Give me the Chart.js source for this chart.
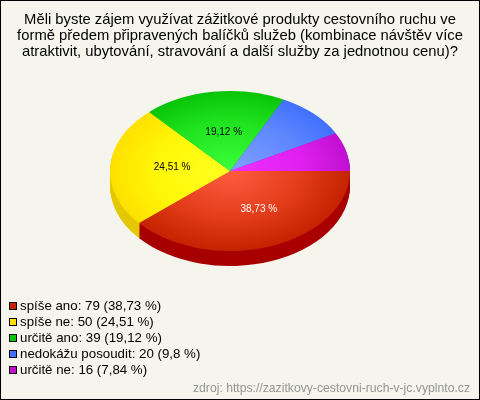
<!DOCTYPE html>
<html>
<head>
<meta charset="utf-8">
<title>Balíčky služeb</title>
<style>
  html, body { margin: 0; padding: 0; }
  #box { position: relative; width: 478px; height: 398px; border: 1px solid #000; background: #f5f5ed; overflow: hidden; font-family: "Liberation Sans", Arial, sans-serif; }
  #chart { position: absolute; left: -1px; top: -1px; }
  #title { position: absolute; left: -1px; top: 11px; width: 480px; text-align: center; font-size: 14.8px; line-height: 15.8px; color: #000; white-space: nowrap; }
  #legend { position: absolute; left: 8px; top: 297px; font-size: 13.3px; line-height: 16px; color: #000; white-space: nowrap; }
  #legend i { display: inline-block; width: 6px; height: 6px; border: 1px solid #000; margin-right: 3px; }
  #source { position: absolute; right: 9px; bottom: 4px; font-size: 12.2px; color: #949494; white-space: nowrap; }
</style>
</head>
<body>
<div id="box">
  <canvas id="chart" width="480" height="400"></canvas>
  <div id="title"></div>
  <div id="legend"></div>
  <div id="source">zdroj: https://zazitkovy-cestovni-ruch-v-jc.vyplnto.cz</div>
</div>
<script src="https://cdn.jsdelivr.net/npm/chart.js@4"></script>
<script>
var titleLines = [
  'Měli byste zájem využívat zážitkové produkty cestovního ruchu ve',
  'formě předem připravených balíčků služeb (kombinace návštěv více',
  'atraktivit, ubytování, stravování a další služby za jednotnou cenu)?'
];
var categories = ['spíše ano', 'spíše ne', 'určitě ano', 'nedokážu posoudit', 'určitě ne'];
var counts = [79, 50, 39, 20, 16];
var percents = [38.73, 24.51, 19.12, 9.8, 7.84];

// colours: centre, middle and rim of slice, side wall
var innerColors = ['#ff5c40', '#ffff20', '#3cff3c', '#80a0ff', '#f030ff'];
var midColors = ['#e23c1a', '#fff808', '#20e420', '#6088ff', '#e020f0'];
var outerColors = ['#c42200', '#ffe000', '#08c408', '#4070ff', '#c010d0'];
var sideColors = ['#a80000', '#e3c800', '#08a008', '#3058c0', '#a010b0'];
var labelColors = ['#fff', '#000', '#000'];
var labelNudge = [[8, 0.5], [2, -1], [2, 1]];

var squash = 80 / 120;
var depth = 15;

function pct(v) { return String(v).replace('.', ',') + ' %'; }

document.getElementById('title').innerHTML = titleLines.join('<br>');
document.getElementById('legend').innerHTML = categories.map(function (c, i) {
  return '<div><i style="background:' + outerColors[i] + '"></i>' + c + ': ' + counts[i] + ' (' + pct(percents[i]) + ')</div>';
}).join('');

function squashCtx(chart) {
  var a = chart.chartArea, cy = (a.top + a.bottom) / 2;
  chart.ctx.translate(0, cy);
  chart.ctx.scale(1, squash);
  chart.ctx.translate(0, -cy);
}

var pie3d = {
  id: 'pie3d',
  beforeDatasetsDraw: function (chart) {
    var ctx = chart.ctx, arcs = chart.getDatasetMeta(0).data;
    ctx.save();
    squashCtx(chart);
    // side wall, same arcs pushed down
    for (var d = depth; d > 0; d--) {
      ctx.save();
      ctx.translate(0, d / squash);
      arcs.forEach(function (arc, i) {
        var o = arc.options;
        arc.options = Object.assign({}, o, { backgroundColor: sideColors[i] });
        arc.draw(ctx);
        arc.options = o;
      });
      ctx.restore();
    }
  },
  afterDatasetsDraw: function (chart) {
    var ctx = chart.ctx, arcs = chart.getDatasetMeta(0).data;
    var a = chart.chartArea, cy = (a.top + a.bottom) / 2;
    ctx.restore();
    ctx.save();
    ctx.font = '10px "Liberation Sans", Arial, sans-serif';
    ctx.textAlign = 'center';
    ctx.textBaseline = 'middle';
    arcs.forEach(function (arc, i) {
      if (percents[i] < 10) return;
      var p = arc.getCenterPoint();
      ctx.fillStyle = labelColors[i];
      ctx.fillText(pct(percents[i]), p.x + labelNudge[i][0], cy + (p.y - cy) * squash + labelNudge[i][1]);
    });
    ctx.restore();
  }
};

new Chart(document.getElementById('chart'), {
  type: 'pie',
  data: {
    labels: categories,
    datasets: [{
      data: counts,
      borderWidth: 0,
      backgroundColor: function (c) {
        var area = c.chart.chartArea;
        if (!area) return outerColors[c.dataIndex];
        var cx = (area.left + area.right) / 2, cy = (area.top + area.bottom) / 2;
        var g = c.chart.ctx.createRadialGradient(cx, cy, 0, cx, cy, 120);
        g.addColorStop(0, innerColors[c.dataIndex]);
        g.addColorStop(0.6, midColors[c.dataIndex]);
        g.addColorStop(1, outerColors[c.dataIndex]);
        return g;
      }
    }]
  },
  options: {
    responsive: false,
    animation: false,
    rotation: 90,
    layout: { padding: { left: 110, right: 130, top: 51, bottom: 109 } },
    plugins: { legend: { display: false }, tooltip: { enabled: false } }
  },
  plugins: [pie3d]
});
</script>
</body>
</html>
